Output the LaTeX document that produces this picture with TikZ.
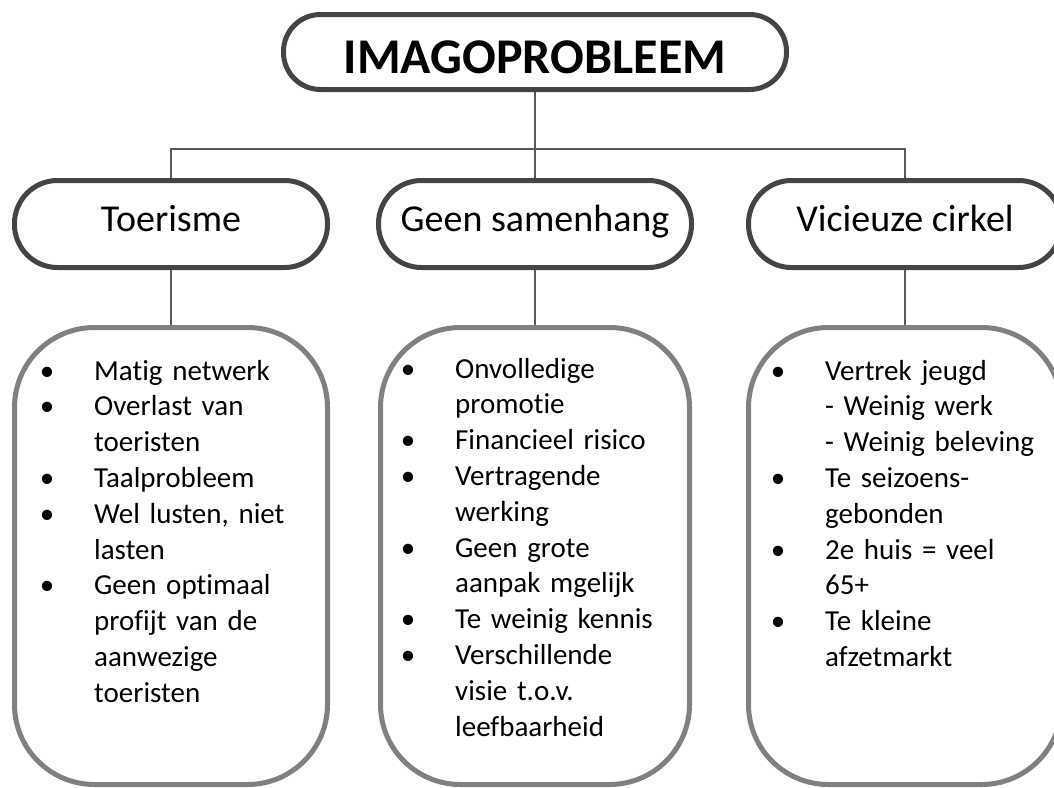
\documentclass[tikz,border=0pt]{standalone}
\usepackage{fontspec}
\setmainfont{Carlito}[Ligatures=NoCommon]
\definecolor{topgray}{HTML}{444444}
\definecolor{listgray}{HTML}{808080}
\definecolor{linkgray}{HTML}{5A5A5A}
\newcommand\bul{\leavevmode\llap{\makebox[0pt]{\textbullet}\hspace{47pt}}}
\begin{document}
\begin{tikzpicture}[x=1pt,y=-1pt,
 topbox/.style={draw=topgray,line width=5pt,rounded corners=37pt,minimum width=503pt,minimum height=75pt,inner sep=0pt,font=\fontsize{50}{60}\selectfont\bfseries,text height=42pt,text depth=0pt},
 midbox/.style={draw=topgray,line width=5pt,rounded corners=43pt,minimum width=313pt,minimum height=87pt,inner sep=0pt,font=\fontsize{38}{46}\selectfont,text height=25pt,text depth=11pt},
 listbox/.style={draw=listgray,line width=5pt,rounded corners=80pt,minimum height=457pt,inner sep=0pt},
 listtext/.style={anchor=base west,inner sep=0pt,align=left,text width=240pt,font=\fontsize{29}{35.8}\selectfont},
 link/.style={draw=linkgray,line width=2.2pt}]
\useasboundingbox (0,0) rectangle (1054,787);
\clip (0,0) rectangle (1054,787);
\fill[white] (0,0) rectangle (1054,787);
% boxes
\node[topbox] (top) at (535,52) {IMAGOPROBLEEM};
\node[midbox] (m1) at (171,224) {Toerisme};
\node[midbox] (m2) at (535,224) {Geen samenhang};
\node[midbox] (m3) at (905,224) {Vicieuze cirkel};
\node[listbox,minimum width=313pt] (l1) at (171,556) {};
\node[listbox,minimum width=309pt] (l2) at (535,556) {};
\node[listbox,minimum width=313pt] (l3) at (905,556) {};
% connectors
\coordinate (j) at (535,149);
\draw[link] (top.south) -- (j);
\draw[link] (m1.north) |- (j) -| (m3.north);
\draw[link] (j) -- (m2.north);
\draw[link] (m1.south) -- (l1.north);
\draw[link] (m2.south) -- (l2.north);
\draw[link] (m3.south) -- (l3.north);
% list texts
\node[listtext] (t1) at (94,380) {\bul Matig netwerk\\
\bul Overlast van\\ toeristen\\
\bul Taalprobleem\\
\bul Wel lusten, niet\\ lasten\\
\bul Geen optimaal\\ profijt van de\\ aanwezige\\ toeristen};
\node[listtext] (t2) at (455,378) {\bul Onvolledige\\ promotie\\
\bul Financieel risico\\
\bul Vertragende\\ werking\\
\bul Geen grote\\ aanpak mgelijk\\
\bul Te weinig kennis\\
\bul Verschillende\\ visie t.o.v.\\ leefbaarheid};
\node[listtext] (t3) at (825,380) {\bul Vertrek jeugd\\
- Weinig werk\\
- Weinig beleving\\
\bul Te seizoens-\\ gebonden\\
\bul 2e huis = veel\\ 65+\\
\bul Te kleine\\ afzetmarkt};
\end{tikzpicture}
\end{document}
